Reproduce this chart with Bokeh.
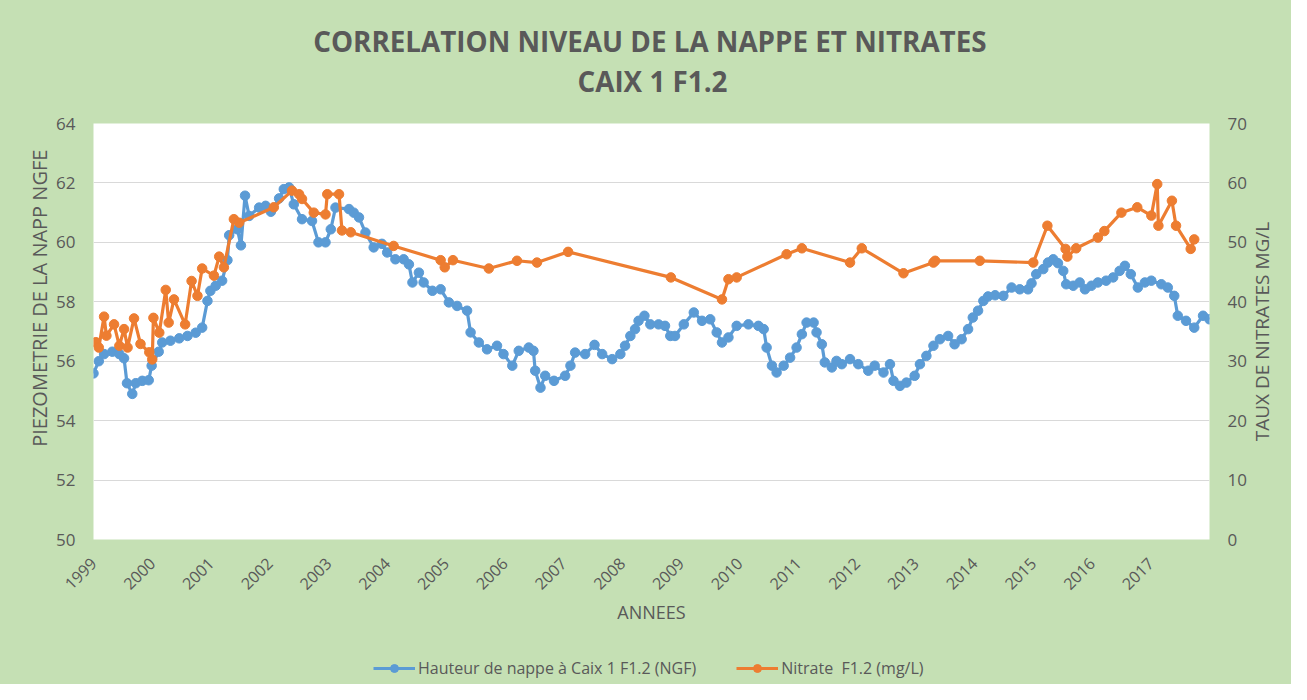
import math
from bokeh.plotting import figure
from bokeh.layouts import column, row
from bokeh.models import Range1d, LinearAxis, FixedTicker, Legend, LegendItem, Label
from bokeh.embed import file_html
from bokeh.resources import INLINE

# ---------------- data ----------------
year_ticks = list(range(1999, 2018))
left_ticks = [50, 52, 54, 56, 58, 60, 62, 64]
right_ticks = [0, 10, 20, 30, 40, 50, 60, 70]

nappe_dates = [
    1999.00, 1999.09, 1999.18, 1999.32, 1999.44, 1999.52, 1999.57, 1999.66, 1999.72, 1999.83,
    1999.94, 1999.99, 2000.11, 2000.17, 2000.31, 2000.46, 2000.60, 2000.74, 2000.85, 2000.94,
    2000.99, 2001.08, 2001.19, 2001.28, 2001.31, 2001.45, 2001.51, 2001.58, 2001.65, 2001.82,
    2001.93, 2002.02, 2002.16, 2002.24, 2002.33, 2002.41, 2002.55, 2002.72, 2002.83, 2002.95,
    2003.04, 2003.12, 2003.35, 2003.43, 2003.52, 2003.63, 2003.77, 2003.91, 2004.00, 2004.14,
    2004.28, 2004.37, 2004.43, 2004.54, 2004.62, 2004.77, 2004.91, 2005.05, 2005.19, 2005.36,
    2005.42, 2005.56, 2005.70, 2005.87, 2005.98, 2006.13, 2006.24, 2006.41, 2006.49, 2006.52,
    2006.61, 2006.69, 2006.84, 2007.03, 2007.12, 2007.20, 2007.37, 2007.53, 2007.66, 2007.83,
    2007.97, 2008.05, 2008.14, 2008.22, 2008.28, 2008.38, 2008.48, 2008.62, 2008.73, 2008.82,
    2008.90, 2009.05, 2009.22, 2009.36, 2009.50, 2009.61, 2009.70, 2009.81, 2009.95, 2010.15,
    2010.32, 2010.41, 2010.46, 2010.55, 2010.63, 2010.75, 2010.86, 2010.97, 2011.06, 2011.14,
    2011.26, 2011.31, 2011.40, 2011.45, 2011.57, 2011.65, 2011.74, 2011.88, 2012.02, 2012.19,
    2012.30, 2012.45, 2012.56, 2012.62, 2012.73, 2012.84, 2012.98, 2013.07, 2013.18, 2013.30,
    2013.41, 2013.55, 2013.66, 2013.78, 2013.89, 2013.97, 2014.06, 2014.15, 2014.23, 2014.35,
    2014.49, 2014.63, 2014.77, 2014.91, 2014.97, 2015.05, 2015.17, 2015.25, 2015.34, 2015.42,
    2015.51, 2015.56, 2015.68, 2015.79, 2015.88, 2015.99, 2016.10, 2016.24, 2016.36, 2016.47,
    2016.56, 2016.66, 2016.78, 2016.90, 2017.01, 2017.18, 2017.29, 2017.40, 2017.46, 2017.60,
    2017.74, 2017.89, 2018.00,
]
nappe_level = [
    55.59, 56.00, 56.24, 56.32, 56.24, 56.10, 55.26, 54.90, 55.26, 55.34,
    55.36, 55.85, 56.32, 56.63, 56.69, 56.77, 56.85, 56.96, 57.13, 58.03,
    58.37, 58.54, 58.71, 59.40, 60.24, 60.44, 59.90, 61.57, 60.89, 61.17,
    61.23, 61.03, 61.48, 61.79, 61.85, 61.28, 60.78, 60.72, 60.00, 60.00,
    60.44, 61.17, 61.12, 61.00, 60.84, 60.33, 59.83, 59.95, 59.66, 59.43,
    59.43, 59.26, 58.65, 58.98, 58.65, 58.37, 58.42, 57.98, 57.86, 57.70,
    56.97, 56.63, 56.40, 56.52, 56.24, 55.85, 56.35, 56.46, 56.35, 55.68,
    55.11, 55.51, 55.34, 55.51, 55.85, 56.29, 56.24, 56.55, 56.24, 56.07,
    56.24, 56.52, 56.85, 57.08, 57.36, 57.53, 57.24, 57.24, 57.19, 56.85,
    56.85, 57.24, 57.64, 57.36, 57.41, 56.97, 56.63, 56.80, 57.19, 57.24,
    57.19, 57.08, 56.46, 55.85, 55.62, 55.85, 56.12, 56.46, 56.91, 57.30,
    57.30, 56.97, 56.57, 55.96, 55.79, 56.01, 55.90, 56.07, 55.90, 55.68,
    55.85, 55.62, 55.90, 55.34, 55.17, 55.28, 55.51, 55.90, 56.18, 56.52,
    56.74, 56.85, 56.57, 56.74, 57.08, 57.47, 57.70, 58.03, 58.18, 58.22,
    58.20, 58.48, 58.42, 58.42, 58.62, 58.93, 59.10, 59.32, 59.43, 59.30,
    59.04, 58.59, 58.54, 58.65, 58.42, 58.54, 58.65, 58.71, 58.82, 59.04,
    59.21, 58.93, 58.48, 58.65, 58.71, 58.59, 58.48, 58.20, 57.53, 57.36,
    57.13, 57.53, 57.41,
]

nitrate_dates = [
    1999.04, 1999.09, 1999.18, 1999.22, 1999.35, 1999.44, 1999.52, 1999.58, 1999.69, 1999.80,
    1999.95, 2000.00, 2000.02, 2000.12, 2000.23, 2000.28, 2000.37, 2000.56, 2000.67, 2000.77,
    2000.85, 2001.05, 2001.14, 2001.22, 2001.39, 2001.48, 2002.07, 2002.38, 2002.50, 2002.55,
    2002.75, 2002.95, 2002.98, 2003.18, 2003.23, 2003.38, 2004.11, 2004.91, 2004.98, 2005.12,
    2005.73, 2006.21, 2006.55, 2007.08, 2008.83, 2009.70, 2009.81, 2009.95, 2010.80, 2011.06,
    2011.88, 2012.08, 2012.79, 2013.30, 2013.33, 2014.09, 2015.00, 2015.24, 2015.55, 2015.58,
    2015.73, 2016.10, 2016.21, 2016.50, 2016.77, 2017.01, 2017.11, 2017.13, 2017.36, 2017.43,
    2017.68, 2017.74,
]
nitrate_value = [
    33.2, 32.3, 37.5, 34.3, 36.2, 32.6, 35.4, 32.3, 37.2, 32.9,
    31.5, 30.3, 37.3, 34.8, 42.0, 36.5, 40.4, 36.2, 43.5, 41.0,
    45.6, 44.4, 47.6, 45.8, 53.9, 53.3, 55.9, 58.7, 58.1, 57.3,
    55.0, 54.7, 58.1, 58.1, 52.0, 51.7, 49.4, 47.0, 45.8, 47.0,
    45.6, 46.9, 46.6, 48.4, 44.1, 40.4, 43.8, 44.1, 48.0, 49.0,
    46.6, 49.0, 44.8, 46.6, 46.9, 46.9, 46.6, 52.8, 48.9, 47.6,
    49.0, 50.8, 51.9, 55.0, 55.9, 54.5, 59.8, 52.8, 57.0, 52.8,
    48.9, 50.5,
]

title_lines = ["CORRELATION  NIVEAU DE LA NAPPE ET NITRATES", "CAIX 1 F1.2"]
x_title = "ANNEES"
left_title = "PIEZOMETRIE DE LA NAPP NGFE"
right_title = "TAUX DE NITRATES MG/L"
series_names = ["Hauteur de nappe à Caix 1 F1.2 (NGF)", "Nitrate  F1.2 (mg/L)"]

# ---------------- style ----------------
FONT = "Open Sans"
TXT = "#595959"
GREEN = "#c5e0b4"
BLUE = "#5b9bd5"
ORANGE = "#ed7d31"
LW = 3.2
MS = 9.5
W_TOTAL = 1291
W_LEFT = 52
W_RIGHT = 41
H_TITLE = 105
H_MAIN = 545
H_LEG = 34
B_TOP = 18
B_BOTTOM = 111


def strip(width, height, xr, yr_, top=0, bottom=0):
    f = figure(width=width, height=height, output_backend="svg", toolbar_location=None,
               title_location=None, x_axis_location=None, y_axis_location=None,
               x_range=xr, y_range=yr_,
               min_border_left=0, min_border_right=0, min_border_top=top, min_border_bottom=bottom)
    f.background_fill_color = GREEN
    f.border_fill_color = GREEN
    f.outline_line_color = None
    f.grid.visible = False
    return f


# ---------------- title strip ----------------
tp = strip(W_TOTAL, H_TITLE, Range1d(0, W_TOTAL), Range1d(0, H_TITLE))
tp.add_layout(Label(x=653, y=65, text=title_lines[0], text_align="center", text_baseline="middle",
                    text_font=FONT, text_font_size="27.8px", text_font_style="bold", text_color=TXT))
tp.add_layout(Label(x=652, y=25, text=title_lines[1], text_align="center", text_baseline="middle",
                    text_font=FONT, text_font_size="27.8px", text_font_style="bold", text_color=TXT))

# ---------------- main chart ----------------
p = figure(width=W_TOTAL - W_LEFT - W_RIGHT, height=H_MAIN, output_backend="svg",
           toolbar_location=None, title_location=None,
           x_range=Range1d(1999, 2018), y_range=Range1d(50, 64),
           min_border_left=41, min_border_right=41, min_border_top=B_TOP, min_border_bottom=B_BOTTOM)
p.extra_y_ranges = {"nit": Range1d(0, 70)}
p.background_fill_color = "white"
p.border_fill_color = GREEN
p.outline_line_color = None

xa = p.xaxis[0]
xa.ticker = FixedTicker(ticks=year_ticks)
xa.major_label_orientation = math.pi / 4
xa.axis_label = x_title

ya = p.yaxis[0]
ya.ticker = FixedTicker(ticks=left_ticks)

yr = LinearAxis(y_range_name="nit", ticker=FixedTicker(ticks=right_ticks))
p.add_layout(yr, "right")

for ax in (xa, ya, yr):
    ax.axis_line_color = None
    ax.major_tick_line_color = None
    ax.minor_tick_line_color = None
    ax.major_tick_in = 0
    ax.major_tick_out = 0
    ax.major_label_text_font = FONT
    ax.major_label_text_color = TXT
    ax.axis_label_text_font = FONT
    ax.axis_label_text_color = TXT
    ax.axis_label_text_font_style = "normal"

xa.major_label_text_font_size = "16px"
ya.major_label_text_font_size = "17px"
yr.major_label_text_font_size = "17px"
xa.major_label_standoff = 21
ya.major_label_standoff = 18
yr.major_label_standoff = 18
xa.axis_label_standoff = 2
xa.axis_label_text_font_size = "18px"

p.xgrid.visible = False
p.ygrid.grid_line_color = "#d9d9d9"
p.ygrid.grid_line_width = 1

p.line(nappe_dates, nappe_level, line_color=BLUE, line_width=LW)
p.scatter(nappe_dates, nappe_level, size=MS, fill_color=BLUE, line_color=BLUE)
p.line(nitrate_dates, nitrate_value, line_color=ORANGE, line_width=LW, y_range_name="nit")
p.scatter(nitrate_dates, nitrate_value, size=MS, fill_color=ORANGE, line_color=ORANGE,
          y_range_name="nit")

# ---------------- axis titles (both read bottom to top) ----------------
lf = strip(W_LEFT, H_MAIN, Range1d(0, W_LEFT), Range1d(0, 1), top=B_TOP, bottom=B_BOTTOM)
lf.add_layout(Label(x=39, y=0.58, text=left_title, angle=math.pi / 2,
                    text_align="center", text_baseline="middle",
                    text_font=FONT, text_font_size="20px", text_color=TXT))

rf = strip(W_RIGHT, H_MAIN, Range1d(0, W_RIGHT), Range1d(0, 1), top=B_TOP, bottom=B_BOTTOM)
rf.add_layout(Label(x=11, y=0.5, text=right_title, angle=math.pi / 2,
                    text_align="center", text_baseline="middle",
                    text_font=FONT, text_font_size="19px", text_color=TXT))

# ---------------- legend strip ----------------
lp = strip(W_TOTAL, H_LEG, Range1d(0, 1), Range1d(0, 1))
# the series are drawn here outside the visible range, only to give the legend its glyphs
g1 = lp.line(nappe_dates, nappe_level, line_color=BLUE, line_width=LW)
g2 = lp.scatter(nappe_dates, nappe_level, size=MS, fill_color=BLUE, line_color=BLUE)
g3 = lp.line(nitrate_dates, nitrate_value, line_color=ORANGE, line_width=LW)
g4 = lp.scatter(nitrate_dates, nitrate_value, size=MS, fill_color=ORANGE, line_color=ORANGE)
legend = Legend(items=[
    LegendItem(label=series_names[0], renderers=[g1, g2]),
    LegendItem(label=series_names[1], renderers=[g3, g4]),
], orientation="horizontal", location=(373, 5), glyph_width=42, glyph_height=20,
    label_standoff=3, spacing=40, padding=0, margin=0,
    background_fill_alpha=0, border_line_color=None,
    label_text_font=FONT, label_text_font_size="16px", label_text_color=TXT)
lp.add_layout(legend, "center")

bg = {"background-color": GREEN}
layout = column(tp, row(lf, p, rf, styles=bg), lp, styles=bg)
open("out.html", "w").write(file_html(layout, INLINE))
